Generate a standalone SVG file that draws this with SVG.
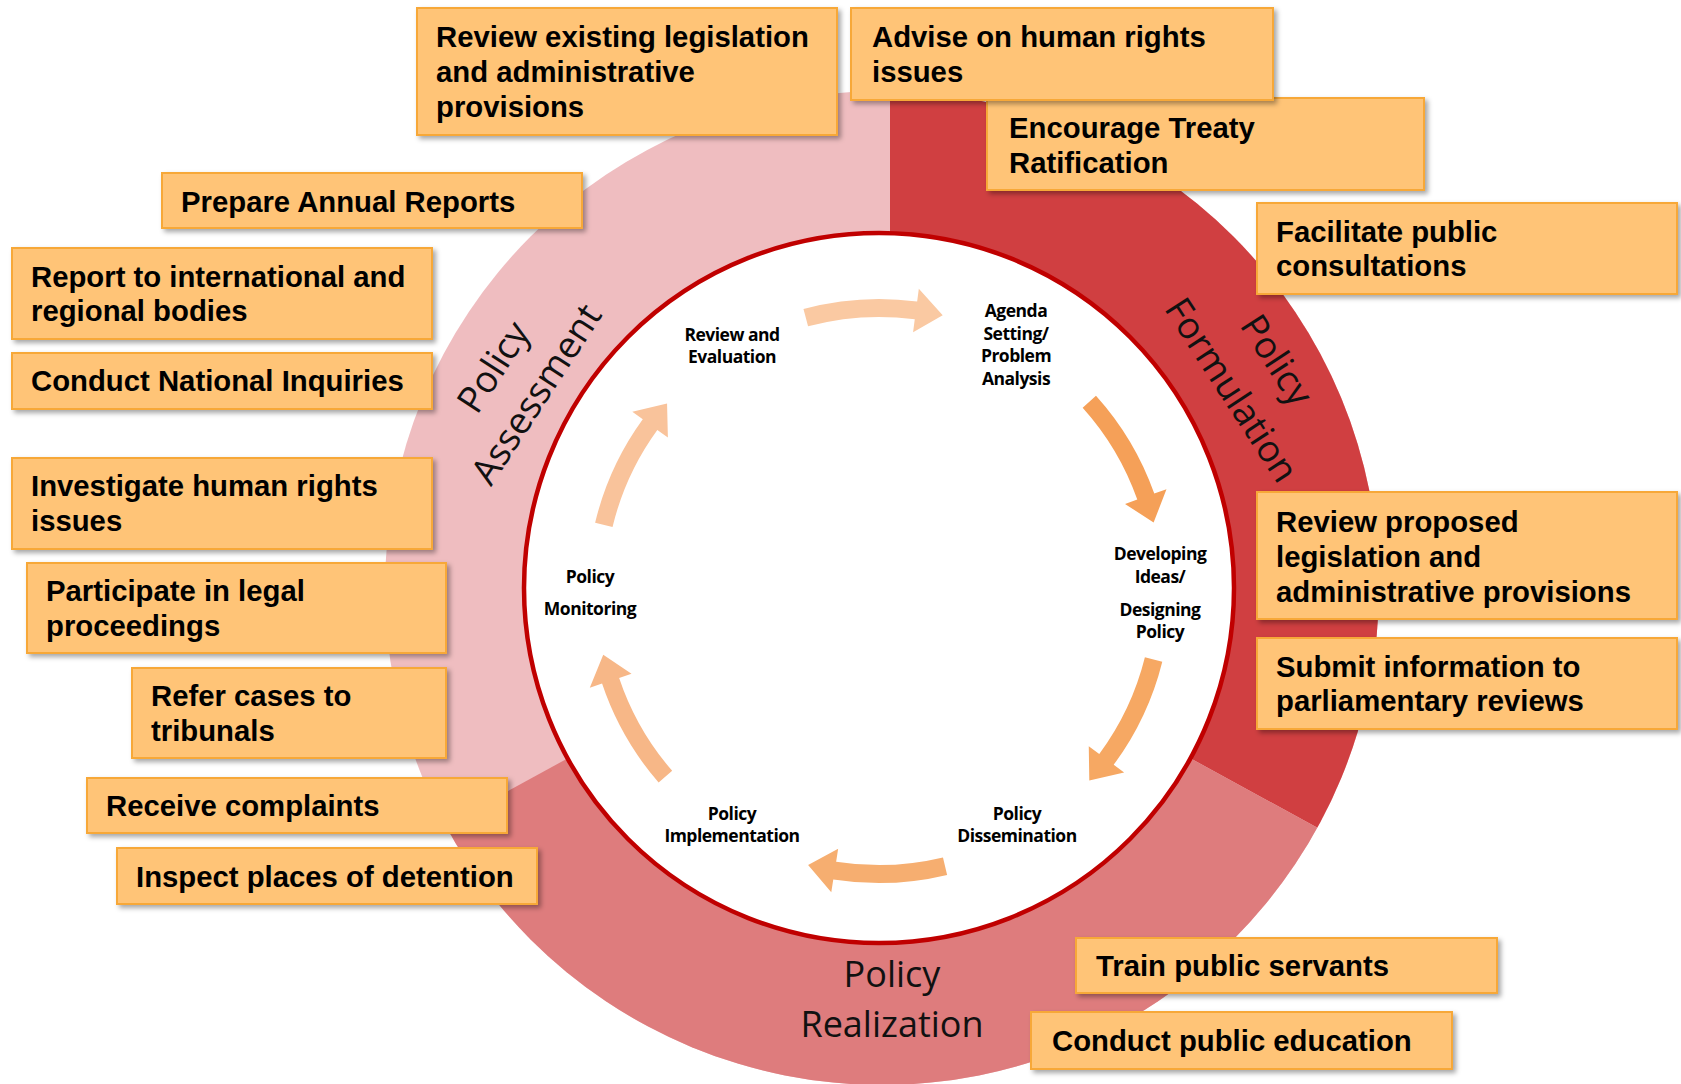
<svg xmlns="http://www.w3.org/2000/svg" xmlns:xlink="http://www.w3.org/1999/xlink" width="1681" height="1084" viewBox="0 0 1681 1084">
<defs>
<style>
.box{fill:#FFC477;stroke:#F7A839;stroke-width:2;filter:url(#sh)}
.bt{font-family:"Liberation Sans",Arial,sans-serif;font-weight:bold;font-size:29.3px;fill:#000}
.il{font-family:"Open Sans",sans-serif;font-weight:700;font-size:17.5px;fill:#000;text-anchor:middle;letter-spacing:-0.5px}
.rl{font-family:"Open Sans",sans-serif;font-size:37px;fill:#111;text-anchor:middle}
</style>
<filter id="sh" x="-5%" y="-10%" width="115%" height="135%">
<feDropShadow dx="3" dy="3" stdDeviation="2.5" flood-color="#000" flood-opacity="0.35"/>
</filter>
<clipPath id="outer"><circle cx="882" cy="588" r="497"/></clipPath>
<path id="arr" d="M -70.6,-283.3 A 292 292 0 0 1 43.2,-288.8 L 45.1,-301.6 L 68.5,-274.6 L 38.6,-258.1 L 40.5,-271 A 274 274 0 0 0 -66.3,-265.9 Z"/>
</defs>

<g id="ring">
<g clip-path="url(#outer)">
<rect x="0" y="0" width="1681" height="1084" fill="#EFBDC0"/>
<polygon points="890,588 890,-10 1700,-10 1700,1037 879,588" fill="#D03F41"/>
<polygon points="879,588 1700,1037 1700,1100 0,1100 0,1069" fill="#DE7C7D"/>
</g>
<circle cx="879" cy="588" r="355" fill="#FFFFFF" stroke="#C00000" stroke-width="4.5"/>
</g>

<g id="ring-labels">
<text class="rl" transform="translate(504,374) rotate(-57)">Policy</text>
<text class="rl" transform="translate(547,401) rotate(-57)">Assessment</text>
<text class="rl" transform="translate(1266,367) rotate(57)">Policy</text>
<text class="rl" transform="translate(1221,397) rotate(57)">Formulation</text>
<text class="rl" style="font-size:36px" x="892" y="987">Policy</text>
<text class="rl" style="font-size:36px" x="892" y="1037">Realization</text>
</g>

<g id="connectors">
<use xlink:href="#arr" fill="#FAC9A2" transform="translate(879,591) rotate(-1)"/>
<use xlink:href="#arr" fill="#F5A058" transform="translate(879,591) rotate(62)"/>
<use xlink:href="#arr" fill="#F6A863" transform="translate(879,591) rotate(118)"/>
<use xlink:href="#arr" fill="#F6AE70" transform="translate(879,591) rotate(180.5)"/>
<use xlink:href="#arr" fill="#F7B787" transform="translate(879,591) rotate(243)"/>
<use xlink:href="#arr" fill="#F9C39B" transform="translate(879,591) rotate(297.5)"/>
</g>

<g id="stage-review"><text class="il" x="732" y="341">Review and</text><text class="il" x="732" y="363">Evaluation</text></g>
<g id="stage-agenda"><text class="il" x="1016" y="317">Agenda</text><text class="il" x="1016" y="339.5">Setting/</text><text class="il" x="1016" y="362">Problem</text><text class="il" x="1016" y="384.5">Analysis</text></g>
<g id="stage-developing"><text class="il" x="1160" y="560">Developing</text><text class="il" x="1160" y="583">Ideas/</text><text class="il" x="1160" y="616">Designing</text><text class="il" x="1160" y="638">Policy</text></g>
<g id="stage-dissemination"><text class="il" x="1017" y="820">Policy</text><text class="il" x="1017" y="842">Dissemination</text></g>
<g id="stage-implementation"><text class="il" x="732" y="820">Policy</text><text class="il" x="732" y="842">Implementation</text></g>
<g id="stage-monitoring"><text class="il" x="590" y="583">Policy</text><text class="il" x="590" y="615">Monitoring</text></g>

<g id="box-review-existing"><rect class="box" x="417" y="8" width="420" height="127"/><text class="bt" x="436" y="47">Review existing legislation</text><text class="bt" x="436" y="82">and administrative</text><text class="bt" x="436" y="117">provisions</text></g>
<g id="box-encourage"><rect class="box" x="987" y="98" width="437" height="92"/><text class="bt" x="1009" y="137.5">Encourage Treaty</text><text class="bt" x="1009" y="172.5">Ratification</text></g>
<g id="box-advise"><rect class="box" x="851" y="8" width="422" height="92"/><text class="bt" x="872" y="47">Advise on human rights</text><text class="bt" x="872" y="82">issues</text></g>
<g id="box-annual"><rect class="box" x="162" y="173" width="420" height="55"/><text class="bt" x="181" y="211.5">Prepare Annual Reports</text></g>
<g id="box-report"><rect class="box" x="12" y="248" width="420" height="91"/><text class="bt" x="31" y="286.5">Report to international and</text><text class="bt" x="31" y="321">regional bodies</text></g>
<g id="box-inquiries"><rect class="box" x="12" y="353" width="420" height="56"/><text class="bt" x="31" y="390.5">Conduct National Inquiries</text></g>
<g id="box-investigate"><rect class="box" x="12" y="458" width="420" height="91"/><text class="bt" x="31" y="496">Investigate human rights</text><text class="bt" x="31" y="531">issues</text></g>
<g id="box-participate"><rect class="box" x="27" y="563" width="419" height="90"/><text class="bt" x="46" y="601">Participate in legal</text><text class="bt" x="46" y="636">proceedings</text></g>
<g id="box-refer"><rect class="box" x="132" y="668" width="314" height="90"/><text class="bt" x="151" y="706">Refer cases to</text><text class="bt" x="151" y="741">tribunals</text></g>
<g id="box-complaints"><rect class="box" x="87" y="778" width="420" height="55"/><text class="bt" x="106" y="816">Receive complaints</text></g>
<g id="box-inspect"><rect class="box" x="117" y="848" width="420" height="56"/><text class="bt" x="136" y="887">Inspect places of detention</text></g>
<g id="box-facilitate"><rect class="box" x="1257" y="203" width="420" height="91"/><text class="bt" x="1276" y="241.5">Facilitate public</text><text class="bt" x="1276" y="276">consultations</text></g>
<g id="box-review-proposed"><rect class="box" x="1257" y="492" width="420" height="127"/><text class="bt" x="1276" y="532">Review proposed</text><text class="bt" x="1276" y="567">legislation and</text><text class="bt" x="1276" y="602">administrative provisions</text></g>
<g id="box-submit"><rect class="box" x="1257" y="638" width="420" height="91"/><text class="bt" x="1276" y="677">Submit information to</text><text class="bt" x="1276" y="711">parliamentary reviews</text></g>
<g id="box-train"><rect class="box" x="1076" y="938" width="421" height="55"/><text class="bt" x="1096" y="976">Train public servants</text></g>
<g id="box-education"><rect class="box" x="1031" y="1012" width="421" height="57"/><text class="bt" x="1052" y="1051">Conduct public education</text></g>
</svg>
